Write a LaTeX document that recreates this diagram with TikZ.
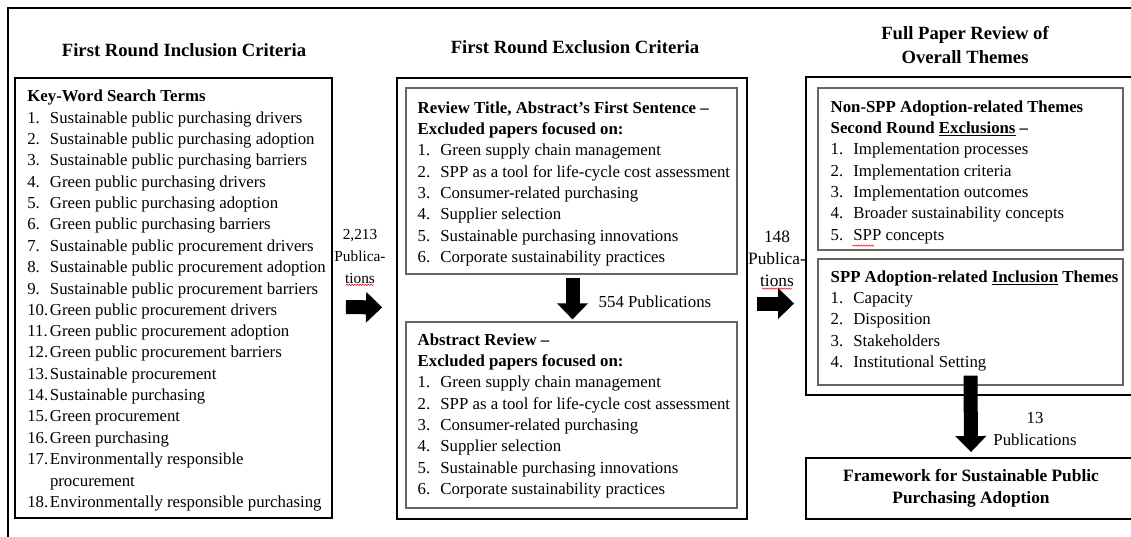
\documentclass[tikz,border=0pt]{standalone}
\usepackage{fontspec}
\setmainfont{Liberation Serif}
\usetikzlibrary{arrows.meta,fit,calc,decorations.pathmorphing}
\newcommand{\itm}[2]{\makebox[17pt][l]{#1}#2}

\begin{document}
\begin{tikzpicture}[x=0.75pt,y=-0.75pt,
	font=\fontsize{12.6}{16}\selectfont,
	outerbox/.style={draw=black, line width=1.4pt, inner sep=0pt},
	innerbox/.style={draw=black!60, line width=0.9pt, inner sep=0pt},
	boxtxt/.style={anchor=north west, align=left, inner sep=0pt},
	headtxt/.style={align=center, font=\fontsize{14}{18}\selectfont\bfseries},
	blockarr/.style={line width=10.5pt, -{Triangle[length=12pt,width=22.5pt]}},
	spellchk/.style={red, line width=0.4pt, decorate,
		decoration={snake, amplitude=0.5pt, segment length=2pt}}]
	\path[use as bounding box, clip] (0,0) rectangle (1131,536);
	% page frame
	\draw[line width=1.2pt] (8,545) |- (1145,8);

	% column titles
	\node[headtxt] (t1) at (184,50) {First Round Inclusion Criteria};
	\node[headtxt] (t2) at (575,47) {First Round Exclusion Criteria};
	\node[headtxt] (t3) at (965,45) {Full Paper Review of\\Overall Themes};

	% boxes
	\node[outerbox, fit={(15,78) (332,518)}] (inc) {};
	\node[outerbox, fit={(397,78) (747,519)}] (exc) {};
	\node[innerbox, fit={(406,88) (737,274)}] (rev) {};
	\node[innerbox, fit={(406,322) (737,508)}] (abst) {};
	\node[outerbox, fit={(806,77) (1136,395)}] (full) {};
	\node[innerbox, fit={(818,88) (1123,250)}] (nonspp) {};
	\node[innerbox, fit={(818,259) (1123,385)}] (incl) {};
	\node[outerbox, fit={(806,458) (1136,519)}] (frame) {};

	\node[boxtxt] (inctxt) at ([shift={(13,13)}]inc.north west)
	{\textbf{Key-Word Search Terms}\\
		\itm{1.}{Sustainable public purchasing drivers}\\
		\itm{2.}{Sustainable public purchasing adoption}\\
		\itm{3.}{Sustainable public purchasing barriers}\\
		\itm{4.}{Green public purchasing drivers}\\
		\itm{5.}{Green public purchasing adoption}\\
		\itm{6.}{Green public purchasing barriers}\\
		\itm{7.}{Sustainable public procurement drivers}\\
		\itm{8.}{Sustainable public procurement adoption}\\
		\itm{9.}{Sustainable public procurement barriers}\\
		\itm{10.}{Green public procurement drivers}\\
		\itm{11.}{Green public procurement adoption}\\
		\itm{12.}{Green public procurement barriers}\\
		\itm{13.}{Sustainable procurement}\\
		\itm{14.}{Sustainable purchasing}\\
		\itm{15.}{Green procurement}\\
		\itm{16.}{Green purchasing}\\
		\itm{17.}{Environmentally responsible}\\
		\itm{}{procurement}\\
		\itm{18.}{Environmentally responsible purchasing}};

	\node[boxtxt] (revtxt) at ([shift={(12,14)}]rev.north west)
	{\textbf{Review Title, Abstract’s First Sentence –}\\
		\textbf{Excluded papers focused on:}\\
		\itm{1.}{Green supply chain management}\\
		\itm{2.}{SPP as a tool for life-cycle cost assessment}\\
		\itm{3.}{Consumer-related purchasing}\\
		\itm{4.}{Supplier selection}\\
		\itm{5.}{Sustainable purchasing innovations}\\
		\itm{6.}{Corporate sustainability practices}};

	\node[boxtxt] (absttxt) at ([shift={(12,12)}]abst.north west)
	{\textbf{Abstract Review –}\\
		\textbf{Excluded papers focused on:}\\
		\itm{1.}{Green supply chain management}\\
		\itm{2.}{SPP as a tool for life-cycle cost assessment}\\
		\itm{3.}{Consumer-related purchasing}\\
		\itm{4.}{Supplier selection}\\
		\itm{5.}{Sustainable purchasing innovations}\\
		\itm{6.}{Corporate sustainability practices}};

	\node[boxtxt] (nonspptxt) at ([shift={(13,13)}]nonspp.north west)
	{\textbf{Non-SPP Adoption-related Themes}\\
		\textbf{Second Round \underline{Exclusions} –}\\
		\itm{1.}{Implementation processes}\\
		\itm{2.}{Implementation criteria}\\
		\itm{3.}{Implementation outcomes}\\
		\itm{4.}{Broader sustainability concepts}\\
		\itm{5.}{SPP concepts}};

	\node[boxtxt] (incltxt) at ([shift={(13,12)}]incl.north west)
	{\textbf{SPP Adoption-related \underline{Inclusion} Themes}\\
		\itm{1.}{Capacity}\\
		\itm{2.}{Disposition}\\
		\itm{3.}{Stakeholders}\\
		\itm{4.}{Institutional Setting}};

	\node[align=center, font=\fontsize{13}{16.5}\selectfont\bfseries] (frametxt)
	at (frame.center) {Framework for Sustainable Public\\Purchasing Adoption};

	% counts
	\node[align=center, font=\fontsize{11.5}{16.5}\selectfont] (n1) at (360,256)
	{2,213\\Publica-\\tions};
	\node[anchor=west] (n2) at (594,302) {554 Publications};
	\node[align=center, font=\fontsize{13}{16.5}\selectfont] (n3) at (777,259)
	{148\\Publica-\\tions};
	\node[align=center] (n4) at (1035,429) {13\\Publications};

	% arrows
	\draw[blockarr] ([shift={(13,9)}]inc.east) -- ([shift={(-14,9)}]exc.west);
	\draw[blockarr] ([shift={(1,3)}]rev.south) -- ([shift={(1,-2)}]abst.north);
	\draw[blockarr] ([shift={(9,5)}]exc.east) -- ($(exc.east -| full.west)+(-11,5)$);
	\draw[blockarr] ([shift={(0,-10)}]incl.south) -- ([shift={(0,-5)}]frame.north);

	% spelling marks
	\draw[spellchk] ([shift={(-14,-3)}]n1.south) -- ([shift={(14,-3)}]n1.south);
	\draw[spellchk] ([shift={(-15,-3)}]n3.south) -- ([shift={(15,-3)}]n3.south);
	\draw[spellchk] ([shift={(35,-5)}]nonspp.south west) -- ([shift={(57,-5)}]nonspp.south west);
\end{tikzpicture}
\end{document}
